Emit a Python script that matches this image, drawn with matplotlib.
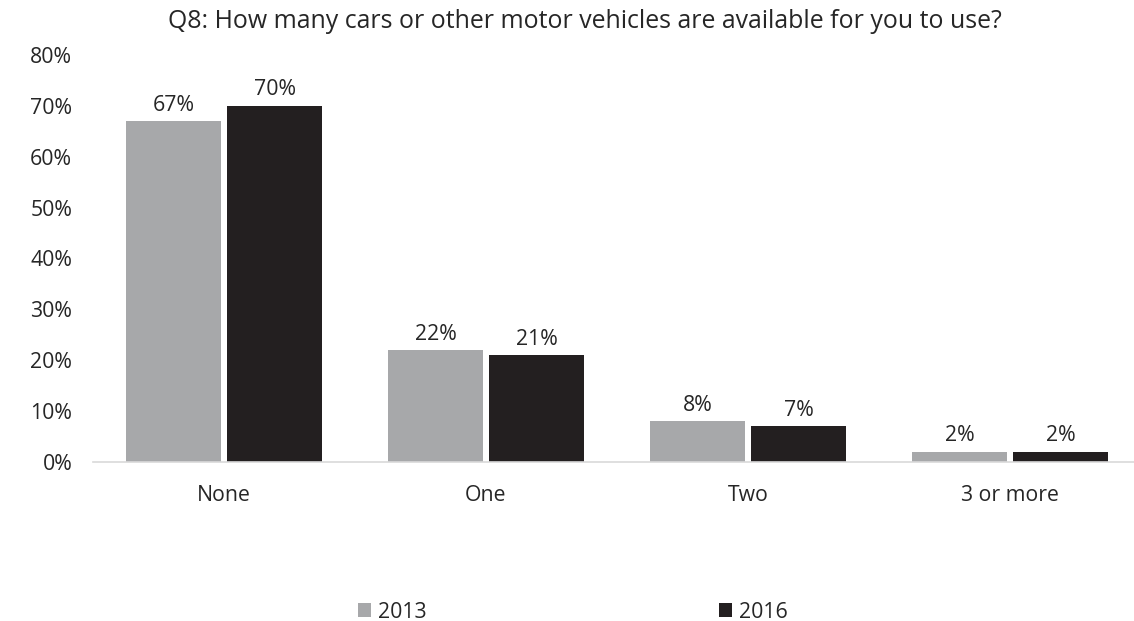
import matplotlib
matplotlib.use("Agg")
import matplotlib.pyplot as plt
import numpy as np
from matplotlib.patches import Patch

plt.rcParams['font.family'] = ['Open Sans', 'DejaVu Sans']

categories = ["None", "One", "Two", "3 or more"]
series_names = ["2013", "2016"]
values_2013 = [67, 22, 8, 2]
values_2016 = [70, 21, 7, 2]
yticks = [0, 10, 20, 30, 40, 50, 60, 70, 80]
title = "Q8: How many cars or other motor vehicles are available for you to use?"

colors = ["#A7A8AA", "#231F20"]
text_color = "#262626"
fs = 15.3

W, H = 1134, 621
fig = plt.figure(figsize=(W / 100, H / 100), dpi=100)
left, right, bottom, top = 93, 1134, 462, 55
ax = fig.add_axes([left / W, 1 - bottom / H, (right - left) / W, (bottom - top) / H])

x = np.arange(len(categories))
bw = 0.3626
off = 0.1928
for vals, c, dx in [(values_2013, colors[0], -off), (values_2016, colors[1], off)]:
    bars = ax.bar(x + dx, vals, width=bw, color=c, linewidth=0)
    for b, v in zip(bars, vals):
        ax.annotate(f"{v}%", (b.get_x() + b.get_width() / 2, v), xytext=(0, 4),
                    textcoords="offset points", ha="center", va="bottom",
                    fontsize=fs, color=text_color)

ax.set_xlim(-0.5, 3.5 - 7 / 262)
ax.set_ylim(0, 80)
ax.set_yticks(yticks)
ax.set_yticklabels([f"{t}%" for t in yticks], fontsize=fs, color=text_color)
ax.set_xticks(x)
ax.set_xticklabels(categories, fontsize=fs, color=text_color)
ax.tick_params(axis="y", length=0, pad=15)
ax.tick_params(axis="x", length=0, pad=16.5)
for s in ["top", "right", "left"]:
    ax.spines[s].set_visible(False)
ax.spines["bottom"].set_color("#D9D9D9")
ax.spines["bottom"].set_linewidth(1.2)

fig.text(585 / W, 1 - 22 / H, title, ha="center", va="center", fontsize=17.9, color=text_color)

handles = [Patch(facecolor=colors[0]), Patch(facecolor=colors[1])]
fig.legend(handles, series_names, loc="center", bbox_to_anchor=(573 / W, 1 - 612 / H),
           ncol=2, frameon=False, fontsize=fs, handlelength=0.6, handleheight=0.6,
           handletextpad=0.35, columnspacing=13.75, labelcolor=text_color)

fig.savefig("out.png", dpi=100)
